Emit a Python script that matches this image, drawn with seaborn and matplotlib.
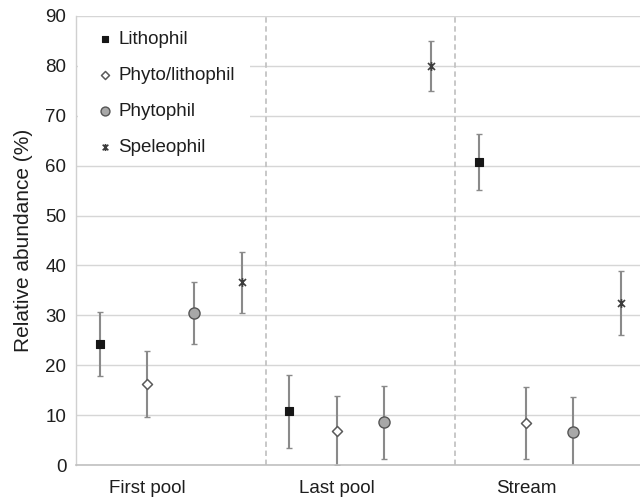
import numpy as np
import pandas as pd
import matplotlib
matplotlib.use("Agg")
import matplotlib.pyplot as plt
from matplotlib.path import Path
from matplotlib.patches import Rectangle
from matplotlib.transforms import ScaledTranslation
import seaborn as sns

# Habitats on the x axis and reproductive guilds plotted within each
habitats = ["First pool", "Last pool", "Stream"]
guilds = ["Lithophil", "Phyto/lithophil", "Phytophil", "Speleophil"]

# Mean relative abundance (%) per guild, one value per habitat
lithophil = [24.3, 10.8, 60.7]
phyto_lithophil = [16.2, 6.9, 8.4]
phytophil = [30.4, 8.6, 6.6]
speleophil = [36.6, 80.0, 32.4]

# Standard deviation per guild, one value per habitat
lithophil_sd = [6.4, 7.3, 5.6]
phyto_lithophil_sd = [6.6, 6.9, 7.2]
phytophil_sd = [6.2, 7.3, 7.0]
speleophil_sd = [6.1, 5.0, 6.4]

means = [lithophil, phyto_lithophil, phytophil, speleophil]
sds = [lithophil_sd, phyto_lithophil_sd, phytophil_sd, speleophil_sd]

rows = []
for gi, g in enumerate(guilds):
    for hi, h in enumerate(habitats):
        rows.append({"habitat": h, "guild": g, "hpos": hi, "gpos": gi,
                     "mean": means[gi][hi], "sd": sds[gi][hi]})
df = pd.DataFrame(rows)
# dodge guilds within each habitat slot
df["x"] = df["hpos"] + (df["gpos"] - 1.5) * 0.25

# star marker: an "x" crossed by a vertical stroke
star = Path([(-1, -1), (1, 1), (-1, 1), (1, -1), (0, -1.25), (0, 1.25)],
            [Path.MOVETO, Path.LINETO, Path.MOVETO, Path.LINETO,
             Path.MOVETO, Path.LINETO])

styles = {
    "Lithophil": dict(marker="s", s=32, color="#161616", edgecolor="#161616", linewidth=0.8),
    "Phyto/lithophil": dict(marker="D", s=26, color="white", edgecolor="#5a5a5a", linewidth=1.1),
    "Phytophil": dict(marker="o", s=64, color="#a8a8a8", edgecolor="#555555", linewidth=1.0),
    "Speleophil": dict(marker=star, s=40, color="#3c3c3c", edgecolor="#3c3c3c", linewidth=1.2),
}

sns.set_style("white")
plt.rcParams["font.family"] = ["Liberation Sans", "DejaVu Sans"]

W, H = 640, 500
ax_left, ax_bottom, ax_w, ax_h = 76, 35, 568.5, 449

fig = plt.figure(figsize=(W / 100, H / 100), dpi=100)
ax = fig.add_axes([ax_left / W, ax_bottom / H, ax_w / W, ax_h / H])

for g in guilds:
    sub = df[df["guild"] == g]
    ax.errorbar(sub["x"], sub["mean"], yerr=sub["sd"], fmt="none",
                ecolor="#8a8a8a", elinewidth=1.5, capsize=2.2, capthick=1.0,
                zorder=2)
    sns.scatterplot(data=sub, x="x", y="mean", ax=ax, label=g, zorder=3,
                    **styles[g])

ax.set_xlim(-0.5, 2.5)
ax.set_ylim(0, 90)
ax.set_yticks(np.arange(0, 91, 10))
ax.set_xticks(range(len(habitats)))
ax.set_xticklabels(habitats)
ax.yaxis.grid(True, color="#d6d6d6", linewidth=1.0)
ax.set_axisbelow(True)
for xb in [0.5, 1.5]:
    ax.axvline(xb, color="#c4c4c4", linestyle=(0, (3, 2)), linewidth=1.3, zorder=1)

# white panel behind the legend, hiding the gridlines it overlaps
def px_to_axes(xpx, ypx):
    return (xpx - ax_left) / ax_w, (H - ax_bottom - ypx) / ax_h

x0, y1 = px_to_axes(77.5, 22)
x1, y0 = px_to_axes(250, 158)
ax.add_patch(Rectangle((x0, y0), x1 - x0, y1 - y0, transform=ax.transAxes,
                       facecolor="white", edgecolor="none", zorder=1.5))

for side in ["top", "right"]:
    ax.spines[side].set_visible(False)
ax.spines["left"].set_color("#d0d0d0")
ax.spines["bottom"].set_color("#c0c0c0")
ax.spines["left"].set_linewidth(1.0)
ax.spines["bottom"].set_linewidth(1.2)

ax.tick_params(axis="y", length=0, pad=7, labelsize=13.5, labelcolor="#1e1e1e")
ax.tick_params(axis="x", length=0, pad=11, labelsize=13.5, labelcolor="#1e1e1e")
# category labels sit a little left of their slot centres
shift = ScaledTranslation(-0.23, 0, fig.dpi_scale_trans)
for lab in ax.get_xticklabels():
    lab.set_transform(lab.get_transform() + shift)
ax.set_xlabel("")
ax.set_ylabel("Relative abundance (%)", fontsize=15, color="#1e1e1e", labelpad=9)

lx, ly = px_to_axes(97.5, 31)
leg = ax.legend(loc="upper left", bbox_to_anchor=(lx, ly), frameon=False,
                fontsize=13.5, labelspacing=1.0, handletextpad=0.3,
                handlelength=0.8, borderpad=0.0, borderaxespad=0.0,
                markerscale=0.8)
for t in leg.get_texts():
    t.set_color("#1e1e1e")

fig.savefig("out.png", dpi=100)
